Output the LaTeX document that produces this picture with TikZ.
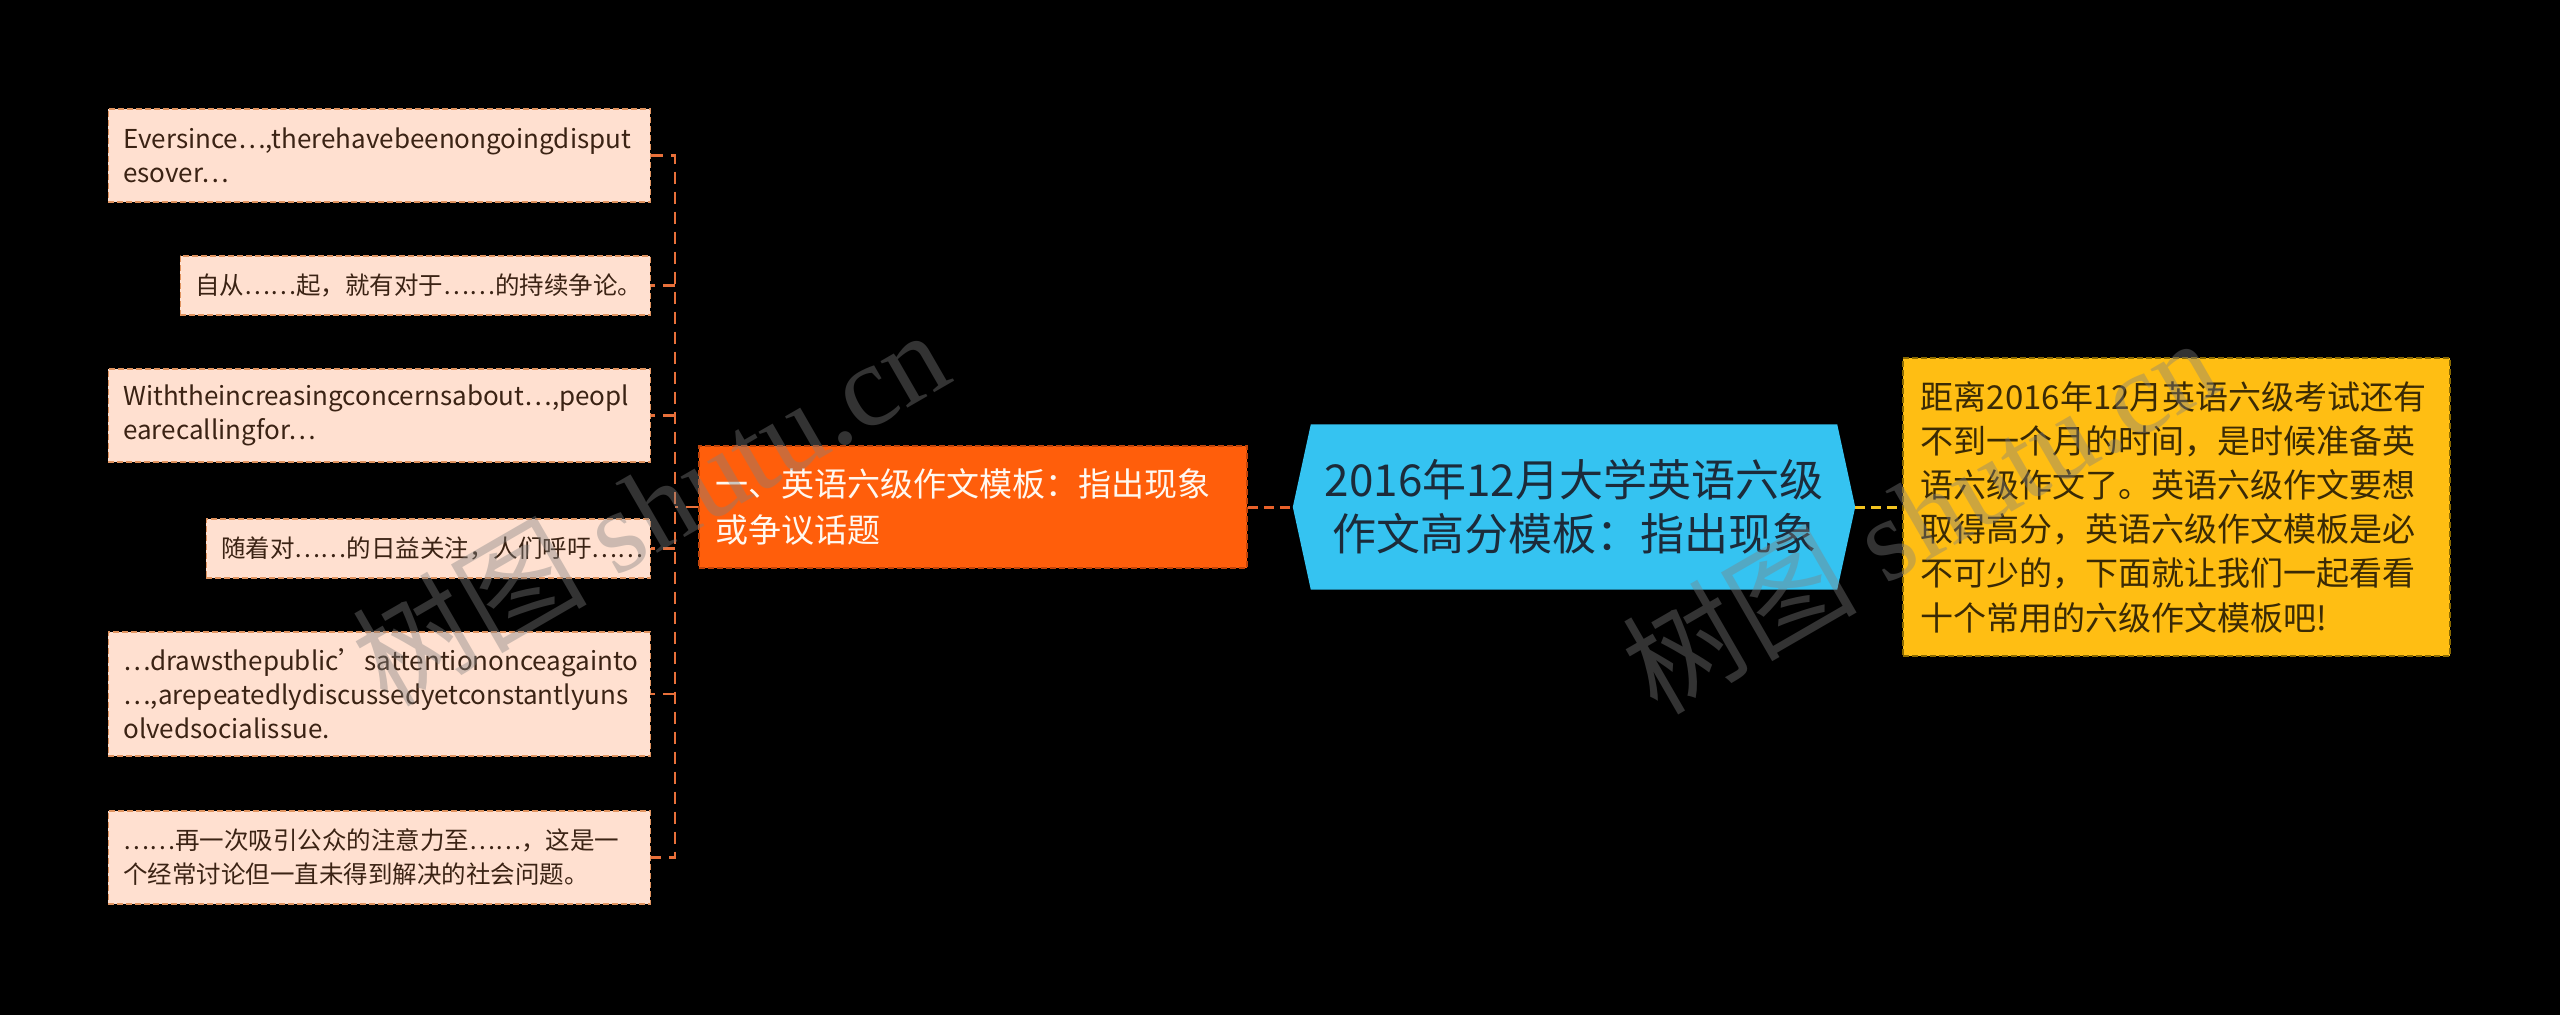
\documentclass[tikz,border=0pt]{standalone}
\usepackage{fontspec}
\setmainfont{Noto Sans CJK SC}
\newfontfamily\wmcjk{Noto Sans CJK SC}
\newfontfamily\wmlat{Liberation Serif}
\definecolor{leaffill}{HTML}{FFE0D0}
\definecolor{leafline}{HTML}{E0935F}
\definecolor{leaftext}{HTML}{3B2314}
\definecolor{branchfill}{HTML}{FF5E0B}
\definecolor{branchline}{HTML}{C0440A}
\definecolor{branchtext}{HTML}{FFF8F0}
\definecolor{cfill}{HTML}{35C3F1}
\definecolor{ctext}{HTML}{1C2B3A}
\definecolor{rfill}{HTML}{FFBE13}
\definecolor{rline}{HTML}{8A6A00}
\definecolor{rtext}{HTML}{3A2A05}
\definecolor{brkcol}{HTML}{E8703A}
\definecolor{olinecol}{HTML}{E8612A}
\definecolor{ylinecol}{HTML}{F2C320}
\newcommand\leaffont{\fontsize{24.5pt}{34pt}\selectfont\hyphenpenalty=10000 \exhyphenpenalty=10000 }
\newcommand\latfont{\fontsize{26pt}{34pt}\selectfont}
\newcommand\branchfont{\fontsize{33pt}{46pt}\selectfont}
\newcommand\cfont{\fontsize{44pt}{54pt}\selectfont}
\newcommand\rfont{\fontsize{33pt}{44.2pt}\selectfont}
\pgfdeclarelayer{bg}
\pgfsetlayers{bg,main}
\begin{document}
\begin{tikzpicture}[x=1pt,y=-1pt,
  leaf/.style={fill=leaffill, draw=leafline, line width=1.5pt, dash pattern=on 6pt off 3pt,
    inner xsep=15pt, inner ysep=0pt, align=left, text=leaftext, font=\leaffont, anchor=east},
  branch/.style={fill=branchfill, draw=branchline, line width=1.5pt, dash pattern=on 6pt off 3pt,
    inner xsep=16pt, inner ysep=0pt, align=left, text=branchtext, font=\branchfont},
  central/.style={inner sep=0pt, align=center, text=ctext, font=\cfont},
  rbox/.style={fill=rfill, draw=rline, line width=1.5pt, dash pattern=on 6pt off 3pt,
    inner xsep=18pt, inner ysep=0pt, align=left, text=rtext, font=\rfont, anchor=west},
  brk/.style={draw=brkcol, line width=2.5pt, dash pattern=on 12pt off 8pt},
  oline/.style={draw=olinecol, line width=3pt, dash pattern=on 10pt off 6pt},
  yline/.style={draw=ylinecol, line width=3pt, dash pattern=on 10pt off 6pt},
  wm/.style={text=white!50!black, text opacity=0.4, font=\fontsize{117pt}{117pt}\selectfont, inner sep=0pt}
]
\useasboundingbox (0,0) rectangle (2560,1015);
\begin{pgfonlayer}{bg}
\fill[black] (0,0) rectangle (2560,1015);
\end{pgfonlayer}

% leaves
\node[leaf, text width=512pt, minimum height=93pt] (l1) at (651,155.5)
  {\latfont Eversince…,therehavebeenongoingdisput\\esover…};
\node[leaf, text width=440pt, minimum height=59pt] (l2) at (651,285.5)
  {自从……起，就有对于……的持续争论。};
\node[leaf, text width=512pt, minimum height=93pt] (l3) at (651,415.5)
  {\latfont Withtheincreasingconcernsabout…,peopl\\earecallingfor…};
\node[leaf, text width=414pt, minimum height=59pt] (l4) at (651,548.5)
  {随着对……的日益关注，人们呼吁……};
\node[leaf, text width=512pt, minimum height=124pt] (l5) at (651,694)
  {\latfont …drawsthepublic’sattentiononceagainto\\…,arepeatedlydiscussedyetconstantlyuns\\olvedsocialissue.};
\node[leaf, text width=512pt, minimum height=93pt] (l6) at (651,857.5)
  {……再一次吸引公众的注意力至……，这是一\\个经常讨论但一直未得到解决的社会问题。};

% branch
\node[branch, text width=516pt, minimum width=548pt, minimum height=122pt] (b) at (973,507)
  {一、英语六级作文模板：指出现象\\或争议话题};

% central
\node[central, minimum width=562pt, minimum height=165pt] (c) at (1574,507)
  {2016年12月大学英语六级\\作文高分模板：指出现象};
\begin{pgfonlayer}{bg}
\fill[cfill] (c.west) -- ([xshift=18pt]c.north west) -- ([xshift=-18pt]c.north east)
  -- (c.east) -- ([xshift=-18pt]c.south east) -- ([xshift=18pt]c.south west) -- cycle;
\end{pgfonlayer}

% right
\node[rbox, text width=511pt, minimum width=547pt, minimum height=298pt] (r) at (1902,507)
  {距离2016年12月英语六级考试还有\\不到一个月的时间，是时候准备英\\语六级作文了。英语六级作文要想\\取得高分，英语六级作文模板是必\\不可少的，下面就让我们一起看看\\十个常用的六级作文模板吧!};

% connectors
\coordinate (j) at (675,507);
\draw[brk] (b.west) -- (j);
\draw[brk] (l1.east) -- (l1.east -| j) -- (l6.east -| j) -- (l6.east);
\foreach \i in {2,3,4,5} { \draw[brk] (l\i.east -| j) -- (l\i.east); }
\draw[oline] (b.east) -- (c.west);
\draw[yline] (c.east) -- (r.west);

% watermarks
\node[wm, rotate=30] (w1) at (650,506) {\wmcjk 树图\wmlat\ shutu.cn};
\node[wm, rotate=30] (w2) at (1920,514) {\wmcjk 树图\wmlat\ shutu.cn};
\end{tikzpicture}
\end{document}
